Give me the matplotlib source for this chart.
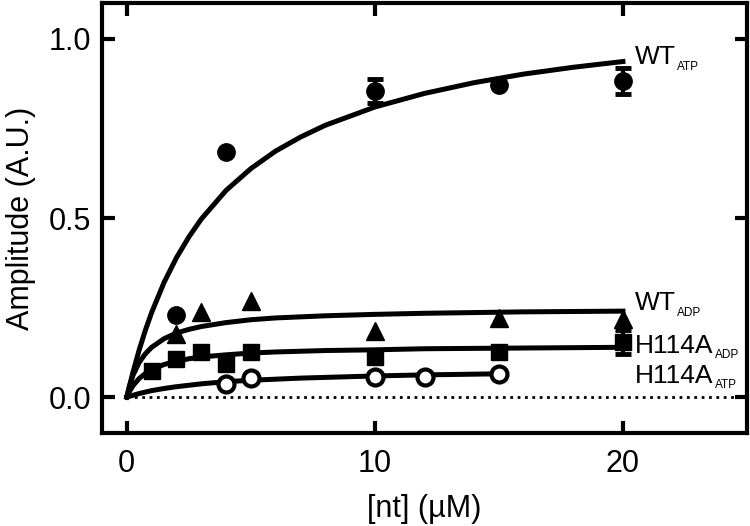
import matplotlib
matplotlib.use("Agg")
import matplotlib.pyplot as plt

plt.rcParams['font.family'] = ['Liberation Sans', 'DejaVu Sans']

# ---- data points ----
wt_atp_x = [2, 4, 10, 15, 20]
wt_atp_y = [0.229, 0.684, 0.854, 0.872, 0.882]
wt_atp_err = [0, 0, 0.034, 0, 0.036]

wt_adp_x = [2, 3, 5, 10, 15, 20]
wt_adp_y = [0.177, 0.238, 0.269, 0.184, 0.222, 0.218]

h_adp_x = [1, 2, 3, 4, 5, 10, 15, 20]
h_adp_y = [0.073, 0.106, 0.125, 0.092, 0.127, 0.113, 0.127, 0.154]
h_adp_err = [0, 0, 0, 0, 0, 0, 0, 0.033]

h_atp_x = [4, 5, 10, 12, 15]
h_atp_y = [0.036, 0.052, 0.055, 0.055, 0.064]

# ---- fitted curves ----
fit_x = [0, 0.1, 0.25, 0.5, 0.75, 1, 1.5, 2, 2.5, 3, 4, 5, 6, 7, 8, 10, 12, 14, 16, 18, 20]
fit_wt_atp = [0, 0.029, 0.07, 0.132, 0.187, 0.236, 0.32, 0.389, 0.447, 0.497, 0.577,
              0.638, 0.687, 0.726, 0.759, 0.81, 0.848, 0.878, 0.902, 0.921, 0.937]
fit_wt_adp = [0, 0.028, 0.061, 0.097, 0.121, 0.139, 0.163, 0.179, 0.189, 0.197, 0.208,
              0.216, 0.221, 0.224, 0.227, 0.231, 0.234, 0.236, 0.238, 0.239, 0.24]
fit_h_adp = [0, 0.015, 0.032, 0.052, 0.066, 0.076, 0.091, 0.1, 0.107, 0.112, 0.118,
             0.123, 0.126, 0.128, 0.130, 0.132, 0.135, 0.136, 0.137, 0.138, 0.139]
fit_h_atp_x = [0, 0.25, 0.5, 1, 1.5, 2, 3, 4, 5, 6, 7, 8, 10, 12, 14, 15]
fit_h_atp = [0, 0.005, 0.01, 0.018, 0.024, 0.029, 0.037, 0.043, 0.047, 0.05,
             0.053, 0.055, 0.059, 0.062, 0.064, 0.065]

labels = [("WT", "ATP", 20.5, 0.93), ("WT", "ADP", 20.5, 0.243),
          ("H114A", "ADP", 20.5, 0.124), ("H114A", "ATP", 20.5, 0.04)]

fig = plt.figure(figsize=(7.5, 5.26), dpi=100)
ax = fig.add_axes([0.136, 0.177, 0.86, 0.817])

lw = 3.6
ax.plot([0, 25], [0, 0], ls=':', color='black', lw=2, zorder=1)
ax.plot(fit_x, fit_wt_atp, color='black', lw=lw, zorder=2)
ax.plot(fit_x, fit_wt_adp, color='black', lw=lw, zorder=2)
ax.plot(fit_x, fit_h_adp, color='black', lw=lw, zorder=2)
ax.plot(fit_h_atp_x, fit_h_atp, color='black', lw=lw, zorder=2)

ms = 12.5
ax.errorbar(wt_atp_x, wt_atp_y, yerr=wt_atp_err, fmt='o', color='black', ms=ms,
            capsize=6, capthick=3.5, elinewidth=3, zorder=3)
ax.plot(wt_adp_x, wt_adp_y, '^', color='black', ms=13, zorder=3)
ax.errorbar(h_adp_x, h_adp_y, yerr=h_adp_err, fmt='s', color='black', ms=11.5,
            capsize=5.5, capthick=3.5, elinewidth=3, zorder=3)
ax.plot(h_atp_x, h_atp_y, 'o', mfc='white', mec='black', mew=3, ms=11.5, zorder=3)

for main, sub, x, y in labels:
    t = ax.text(x, y, main, fontsize=19, va='baseline', ha='left')
    ax.annotate(sub, xy=(1, 0), xycoords=t, xytext=(0.5, -2.5),
                textcoords='offset points', fontsize=8.5, va='bottom', ha='left')

ax.set_xlim(-1, 25)
ax.set_ylim(-0.1, 1.1)
ax.set_xticks([0, 10, 20])
ax.set_yticks([0.0, 0.5, 1.0])
ax.set_yticklabels(['0.0', '0.5', '1.0'])
ax.tick_params(direction='in', length=9, width=3, labelsize=22,
               top=True, right=True, pad=8)
ax.tick_params(axis='x', pad=11.5)
for s in ax.spines.values():
    s.set_linewidth(3)
ax.set_xlabel('[nt] (µM)', fontsize=22, labelpad=11)
ax.set_ylabel('Amplitude (A.U.)', fontsize=22, labelpad=9)

fig.savefig('out.png', dpi=100)
